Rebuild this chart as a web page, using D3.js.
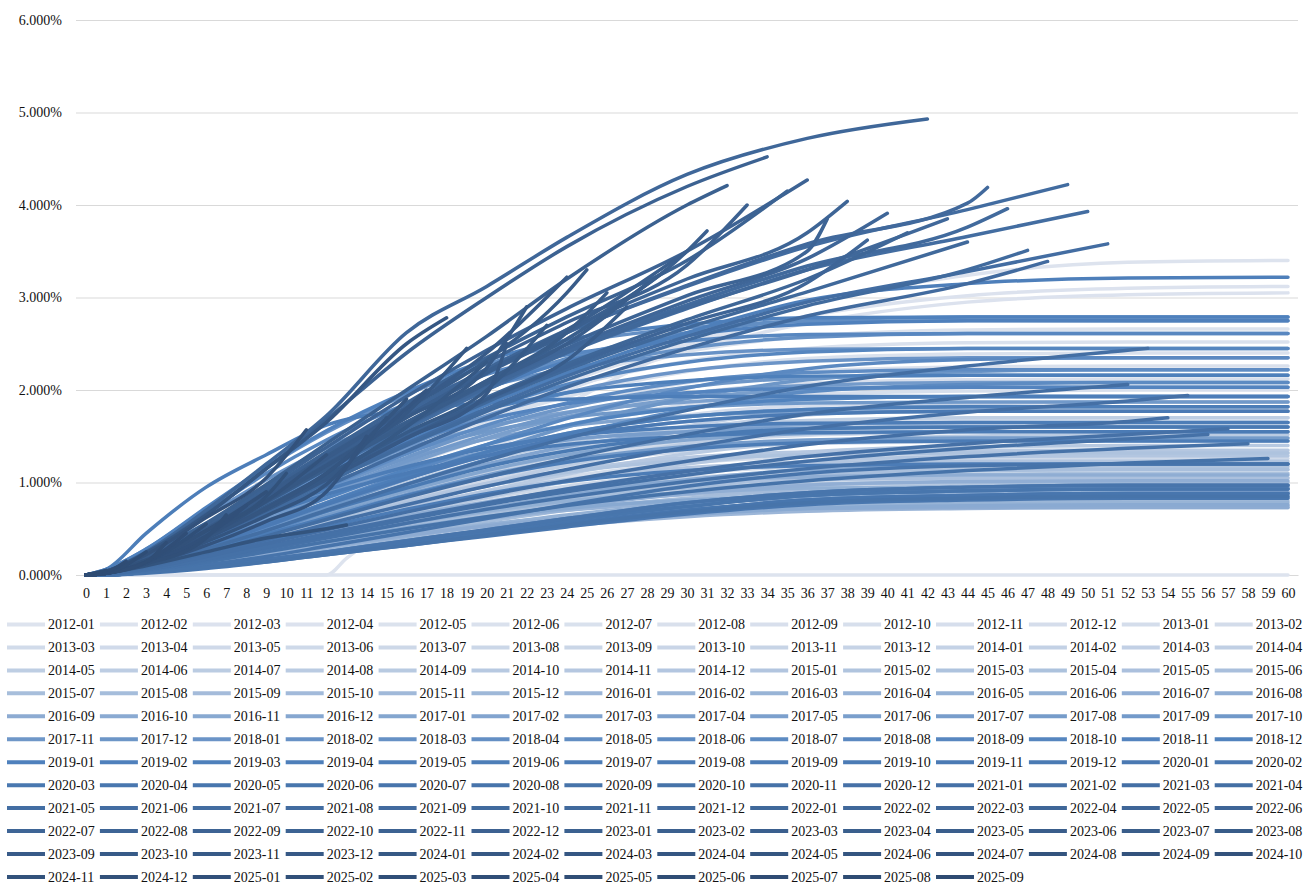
<!DOCTYPE html>
<html>
<head>
<meta charset="utf-8">
<script src="https://cdn.jsdelivr.net/npm/d3@7/dist/d3.min.js"></script>
<style>
  body { margin: 0; background: #fff; }
  svg { display: block; }
  svg text { font-family: "Liberation Serif", "Times New Roman", Tinos, "DejaVu Serif", serif; }
</style>
</head>
<body>
<div id="chart"></div>
<script>
var knotMonths = [0, 1, 3, 6, 9, 12, 16, 20, 24, 30, 36, 44, 52, 60];
var monthTicks = d3.range(0, 61);
var yTicks = [0, 0.01, 0.02, 0.03, 0.04, 0.05, 0.06];
var serif = "'Liberation Serif', 'Times New Roman', Tinos, 'DejaVu Serif', serif";

// vintage months, 2012-01 .. 2025-09
var vintages = d3.utcMonth.range(new Date(Date.UTC(2012, 0, 1)), new Date(Date.UTC(2025, 9, 1)))
  .map(d3.utcFormat("%Y-%m"));

// cumulative loss in basis points (0.01%), one entry per vintage.
// plain numbers sit at knotMonths[i]; a [month, value] pair marks the last observed month
var curves = [
  [0,0,0,0,0,0,0,0,0,0,0,0,0,0],
  [[0,0],[12,0],[13,18],[16,62],[20,128],[24,184],[30,248],[36,292],[44,324],[52,338],[60,340]],
  [0,1,9,32,62,92,132,172,208,250,280,302,310,312],
  [0,1,8,28,56,86,126,164,200,242,272,295,303,305],
  [0,2,14,42,75,108,150,186,214,242,258,265,266,266],
  [0,2,13,40,71,102,142,176,203,231,245,251,252,252],
  [0,2,12,37,66,96,134,167,193,220,234,239,240,240],
  [0,1,11,34,61,89,125,157,182,208,220,225,226,226],
  [0,1,10,31,57,84,118,148,172,196,207,211,212,212],
  [0,1,9,29,53,79,111,139,162,184,195,199,200,200],
  [0,1,9,27,50,74,104,131,152,173,183,186,187,187],
  [0,1,8,24,45,67,94,118,137,156,166,169,170,170],
  [0,1,6,18,34,51,72,91,106,121,128,131,132,132],
  [0,1,7,23,42,63,89,112,130,148,157,159,160,160],
  [0,1,7,22,41,61,86,108,126,143,151,154,155,155],
  [0,1,7,21,39,58,82,103,120,137,145,147,148,148],
  [0,1,6,20,38,57,80,101,118,134,142,144,145,145],
  [0,1,6,17,32,49,69,87,101,115,122,125,126,126],
  [0,1,5,16,30,46,65,83,96,110,117,119,120,120],
  [0,1,5,15,29,44,62,79,92,105,111,113,114,114],
  [0,1,5,14,27,40,57,72,84,96,102,104,105,105],
  [0,1,4,13,25,38,54,69,80,91,97,99,100,100],
  [0,1,4,12,24,36,52,65,76,87,92,94,95,95],
  [0,1,4,12,23,34,49,62,72,82,88,90,90,90],
  // 2014
  [0,2,12,33,58,83,114,141,162,181,190,193,193,193],
  [0,1,7,22,40,60,86,109,131,157,173,180,182,182],
  [0,2,11,30,53,76,104,129,149,166,174,177,177,177],
  [0,1,7,22,41,62,88,112,135,161,178,185,187,187],
  [0,2,10,29,51,73,100,124,143,160,167,170,170,170],
  [0,1,7,20,36,54,78,99,119,142,157,163,165,165],
  [0,2,10,27,48,69,94,117,134,150,158,160,160,160],
  [0,1,6,18,33,50,71,91,109,131,144,150,152,152],
  [0,1,9,25,44,62,86,106,122,136,143,145,145,145],
  [0,1,6,17,31,46,66,84,101,120,133,139,140,140],
  [0,1,8,23,41,58,80,99,113,127,133,135,135,135],
  [0,1,5,15,28,43,61,77,93,111,123,128,129,129],
  // 2015
  [0,1,7,21,37,53,73,90,103,116,121,123,123,123],
  [0,1,5,14,26,39,55,70,84,101,111,116,117,117],
  [0,1,8,22,40,57,78,96,111,124,130,132,132,132],
  [0,1,4,13,24,36,52,66,79,95,105,109,110,110],
  [0,1,6,18,32,45,62,77,88,99,103,105,105,105],
  [0,1,5,14,25,38,54,68,82,98,108,113,114,114],
  [0,1,6,17,30,43,59,73,84,94,98,100,100,100],
  [0,0,4,12,21,32,46,58,70,83,92,96,97,97],
  [0,1,6,16,28,40,55,68,78,87,92,93,93,93],
  [0,0,4,11,19,29,41,53,63,76,84,87,88,88],
  [0,1,5,14,26,37,50,62,71,80,84,85,85,85],
  [0,0,3,10,18,26,38,48,58,69,76,79,80,80],
  // 2016
  [0,0,3,9,16,24,34,44,53,63,69,72,73,73],
  [0,1,5,13,23,32,44,55,63,71,74,75,75,75],
  [0,0,3,9,17,26,37,47,56,67,74,77,78,78],
  [0,1,5,14,25,36,49,61,70,78,82,83,83,83],
  [0,0,4,11,20,30,42,54,65,77,86,89,90,90],
  [0,1,6,16,29,41,56,69,80,89,94,95,95,95],
  [0,1,4,12,22,34,48,61,73,88,97,101,102,102],
  [0,1,6,18,32,46,64,79,91,102,106,108,108,108],
  [0,1,4,12,22,31,43,53,61,69,72,73,73,73],
  [0,0,3,9,17,25,36,46,55,65,72,75,76,76],
  [0,1,5,15,26,37,51,63,72,81,85,86,86,86],
  [0,1,5,14,26,40,56,72,86,103,114,119,120,120],
  // 2017
  [0,2,9,26,47,67,91,113,130,146,153,155,155,155],
  [0,2,10,28,50,71,97,120,139,155,163,165,165,165],
  [0,4,18,46,74,99,126,147,161,172,176,177,177,177],
  [0,2,11,31,55,78,107,133,153,171,179,182,182,182],
  [0,4,19,50,81,108,137,160,176,187,192,193,193,193],
  [0,2,12,35,61,87,120,148,171,191,200,203,203,203],
  [0,3,16,42,67,90,114,133,146,155,159,160,160,160],
  [0,1,9,25,44,64,87,108,124,139,146,148,148,148],
  [0,2,12,35,62,89,123,152,175,196,205,208,208,208],
  [0,4,19,49,79,105,133,155,170,181,186,187,187,187],
  [0,2,13,37,65,93,127,158,181,203,213,216,216,216],
  [0,1,9,27,49,73,104,133,160,191,211,220,222,222],
  // 2018
  [0,2,14,40,71,101,139,172,197,221,231,235,235,235],
  [0,5,25,64,103,137,174,203,223,238,244,245,245,245],
  [0,3,16,44,78,112,154,191,219,245,257,261,261,261],
  [0,6,28,72,116,154,195,228,250,267,274,275,275,275],
  [0,3,17,47,84,120,165,204,234,262,275,279,279,279],
  [0,2,13,38,67,95,131,162,186,209,219,222,222,222],
  [0,1,8,25,46,69,98,125,150,179,198,206,208,208],
  [0,1,9,28,52,78,110,141,169,202,223,233,235,235],
  [0,5,26,68,110,146,185,217,238,253,260,261,261,261],
  [0,2,15,42,74,105,145,179,206,230,241,245,245,245],
  [0,4,20,53,85,114,144,168,185,197,202,203,203,203],
  [0,2,12,33,58,83,114,141,162,181,190,193,193,193],
  // 2019
  [0,6,28,73,117,156,198,232,254,271,278,279,279,279],
  [0,3,17,47,83,118,162,201,231,259,271,275,275,275],
  [0,4,22,56,91,121,153,179,197,210,215,216,216,216],
  [0,2,14,40,72,104,145,184,218,262,297,315,321,322],
  [0,6,45,95,130,162,178,186,190,193,193,193,193,193],
  [0,2,11,31,55,78,107,133,153,171,179,182,182,182],
  [0,3,17,43,69,92,117,137,150,160,164,165,165,165],
  [0,1,9,25,44,62,86,106,122,136,143,145,145,145],
  [0,1,7,20,36,52,71,88,101,113,118,120,120,120],
  [0,3,16,40,65,87,110,129,141,150,154,155,155,155],
  [0,2,11,30,53,76,104,129,149,166,174,177,177,177],
  [0,2,10,27,48,69,94,117,134,150,158,160,160,160],
  // 2020-01 .. 2020-09
  [0,0,3,9,16,25,37,49,61,78,89,95,97,97],
  [0,0,3,8,16,24,35,47,59,74,86,91,93,93],
  [0,0,3,8,15,23,33,45,55,70,81,86,88,88],
  [0,0,2,7,14,22,32,42,52,66,76,81,83,83],
  [0,0,3,8,15,23,34,45,56,70,81,86,88,88],
  [0,0,3,8,16,24,35,47,59,74,86,91,93,93],
  [0,0,3,9,17,25,37,49,61,78,89,95,97,97],
  [0,1,4,11,20,31,46,61,76,96,110,118,120,120],
  [0,0,3,8,14,22,32,43,54,68,78,83,85,85],
  // 2020-10 onwards, still open
  [0,1,5,14,25,36,50,63,75,90,102,113,121,[59,126]],
  [0,1,6,16,28,40,56,71,84,101,115,128,137,[58,142]],
  [0,1,6,18,31,45,62,78,93,112,128,142,152,[57,158]],
  [0,1,6,17,30,43,60,76,90,108,123,137,147,[56,152]],
  [0,2,8,22,38,55,76,96,114,138,158,176,188,[55,194]],
  [0,1,7,20,34,49,68,86,102,123,141,157,166,[54,170]],
  [0,2,10,28,48,70,98,124,148,178,204,226,243,[53,245]],
  [0,2,9,24,42,60,84,106,126,152,174,192,[52,206]],
  [0,2,14,40,70,102,142,180,215,258,295,328,[51,358]],
  [0,3,16,45,78,114,158,200,240,288,330,366,[50,393]],
  [0,3,18,50,86,125,174,220,262,312,355,395,[49,422]],
  [0,2,13,38,66,96,134,170,203,245,280,315,[48,339]],
  [0,2,14,40,69,100,140,177,211,254,291,330,[47,351]],
  [0,3,16,46,80,116,162,205,244,292,334,376,[46,396]],
  [0,3,18,50,86,125,174,220,262,313,358,402,[45,419]],
  [0,2,14,42,73,106,148,187,222,267,306,[44,360]],
  [0,3,16,46,80,116,161,203,241,289,330,[43,385]],
  [0,4,25,70,120,172,262,312,365,433,472,[42,493]],
  [0,2,14,42,74,108,152,192,228,276,320,[41,370]],
  [0,3,16,46,80,116,163,206,245,296,342,[40,391]],
  [0,2,14,42,73,106,149,189,225,272,316,[39,362]],
  [0,3,18,50,87,126,177,223,265,320,370,[38,404]],
  [0,3,16,46,81,118,165,209,249,302,350,[37,385]],
  [0,3,20,55,95,138,193,243,288,350,[36,427]],
  [0,3,19,53,92,133,186,235,279,340,[35,415]],
  [0,4,24,66,115,168,240,300,355,420,[34,452]],
  [0,3,18,52,90,130,182,230,273,335,[33,400]],
  [0,3,20,56,98,142,200,258,320,400,[32,421]],
  [0,3,17,48,84,122,171,218,262,350,[31,372]],
  [0,3,17,48,84,123,172,220,265,[30,350]],
  [0,3,16,46,80,117,165,210,255,[29,330]],
  [0,3,16,45,79,115,162,207,250,[28,315]],
  [0,2,14,41,72,105,148,190,232,[27,290]],
  [0,3,16,45,79,115,163,210,262,[26,305]],
  [0,3,18,50,88,128,180,232,305,[25,330]],
  [0,3,17,49,86,126,180,240,[24,322]],
  [0,2,14,42,74,108,154,200,[23,270]],
  [0,3,16,46,81,119,170,224,[22,290]],
  [0,2,14,40,70,103,148,196,[21,250]],
  [0,2,14,40,72,106,160,[20,230]],
  [0,3,16,45,80,118,175,[19,245]],
  [0,4,24,65,115,165,250,[18,278]],
  [0,2,14,40,72,110,180,[17,200]],
  [0,2,13,40,72,110,[16,190]],
  [0,2,12,36,64,98,[15,170]],
  [0,2,11,32,58,90,[14,150]],
  [0,2,10,25,40,50,[13,54]],
  [0,2,14,42,80,[12,130]],
  [0,4,22,62,105,[11,157]],
  [0,3,16,48,85,[10,110]],
  [0,2,14,48,[9,90]],
  [0,2,13,42,[8,75]],
  [0,2,12,40,[7,65]],
  [0,2,14,[6,55]],
  [0,2,14,[5,45]],
  [0,2,14,[4,35]],
  [0,2,[3,25]],
  [0,3,[2,15]],
  [0,[1,5]],
  [[0,0]]
];

var width = 1307, height = 884;

var svg = d3.select("#chart").append("svg")
  .attr("width", width)
  .attr("height", height);

var x = d3.scaleLinear().domain([-0.5, 60.5]).range([76, 1298]);
var y = d3.scaleLinear().domain([0, 0.06]).range([575, 20]);

var lightRamp = d3.interpolateRgb("#dde3ee", "#4f81bd"),
    darkRamp = d3.interpolateRgb("#4f81bd", "#2e4b72");

function colorOf(i) {
  return i <= 84 ? lightRamp(Math.pow(i / 84, 1.4)) : darkRamp((i - 84) / 80);
}

function toPoints(c) {
  return c.map(function(d, i) {
    return Array.isArray(d) ? [d[0], d[1] / 10000] : [knotMonths[i], d / 10000];
  });
}

// gridlines + y labels
var yAxis = d3.axisLeft(y).tickValues(yTicks).tickFormat(d3.format(".3%"))
  .tickSize(-(1298 - 76)).tickPadding(14);

svg.append("g")
  .attr("transform", "translate(76,0)")
  .call(yAxis)
  .call(function(g) {
    g.attr("font-family", null);
    g.select(".domain").remove();
    g.selectAll(".tick line").attr("stroke", "#d9d9d9");
    g.selectAll(".tick text").attr("font-size", 14).attr("fill", "#111")
      .style("font-family", serif);
  });

// x labels
var xAxis = d3.axisBottom(x).tickValues(monthTicks).tickSize(0).tickPadding(13);
svg.append("g")
  .attr("transform", "translate(0,575)")
  .call(xAxis)
  .call(function(g) {
    g.attr("font-family", null);
    g.select(".domain").attr("stroke", "#d9d9d9");
    g.selectAll(".tick text").attr("font-size", 14).attr("fill", "#111")
      .style("font-family", serif);
  });

var line = d3.line()
  .x(function(d) { return x(d[0]); })
  .y(function(d) { return y(d[1]); })
  .curve(d3.curveMonotoneX);

var series = curves.map(function(c, i) {
  return { name: vintages[i], color: colorOf(i), points: toPoints(c) };
});

svg.append("g")
  .attr("fill", "none")
  .attr("stroke-linecap", "round")
  .attr("stroke-linejoin", "round")
  .selectAll("path")
  .data(series.filter(function(s) { return s.points.length > 1; }))
  .enter()
  .append("path")
  .attr("stroke", function(s) { return s.color; })
  .attr("stroke-width", 3.5)
  .attr("d", function(s) { return line(s.points); });

// legend, 14 per row
var legend = svg.append("g")
  .selectAll("g")
  .data(series)
  .enter()
  .append("g")
  .attr("transform", function(s, i) {
    return "translate(" + (7 + (i % 14) * 92.9) + "," + (624.5 + Math.floor(i / 14) * 22.95) + ")";
  });

legend.append("line")
  .attr("x1", 0).attr("x2", 38)
  .attr("stroke", function(s) { return s.color; })
  .attr("stroke-width", 4);

legend.append("text")
  .attr("x", 41)
  .attr("dy", "0.35em")
  .attr("font-size", 14)
  .attr("fill", "#111")
  .style("font-family", serif)
  .text(function(s) { return s.name; });
</script>
</body>
</html>
